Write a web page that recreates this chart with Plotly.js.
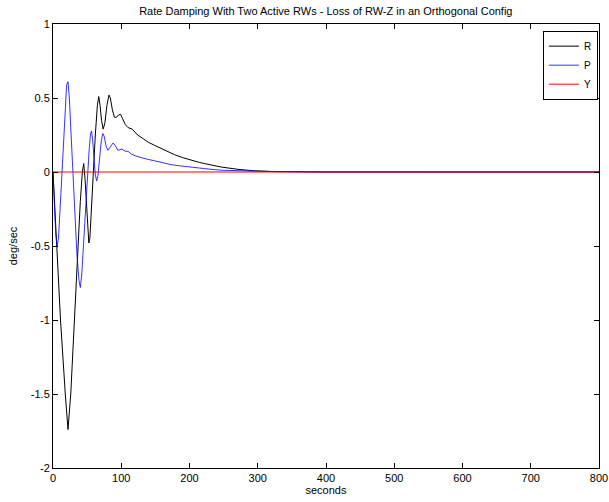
<!DOCTYPE html>
<html>
<head>
<meta charset="utf-8">
<script src="https://cdn.plot.ly/plotly-3.0.1.min.js"></script>
<style>html,body{margin:0;padding:0;background:#fff;}#chart{width:609px;height:502px;}</style>
</head>
<body>
<div id="chart"></div>
<script>
// Roll rate (R)
const tR = [0, 5, 11, 18, 22, 26, 31, 36, 40, 43, 45, 47, 50, 52.5, 54, 56, 59, 62, 65, 67, 69, 71, 73.5, 76, 79, 82, 84, 87, 90, 93, 96, 99, 102, 106, 110, 116, 120, 124, 129, 140, 149, 154, 166, 173, 178, 190, 198, 202, 215, 222, 227, 246, 271, 295, 320, 350, 378, 400, 800];
const R  = [0, -0.5, -1.0, -1.5, -1.74, -1.5, -1.0, -0.5, -0.2, 0.0, 0.057, -0.05, -0.3, -0.48, -0.45, -0.25, 0.0, 0.25, 0.45, 0.51, 0.45, 0.35, 0.29, 0.33, 0.45, 0.52, 0.5, 0.42, 0.37, 0.37, 0.385, 0.39, 0.36, 0.32, 0.30, 0.29, 0.27, 0.25, 0.235, 0.20, 0.18, 0.169, 0.14, 0.124, 0.117, 0.097, 0.086, 0.079, 0.064, 0.057, 0.052, 0.034, 0.018, 0.008, 0.004, 0.002, 0.001, 0, 0];
// Pitch rate (P)
const tP = [0, 2, 4, 6, 8, 10, 13, 16, 18, 20, 22, 24, 26, 29, 32, 35, 38, 40, 42, 45, 48, 51, 53, 55, 56.5, 58, 60, 62, 64, 66, 68, 71, 73, 75, 78, 80.5, 84, 88, 91, 95, 98, 101, 106, 110, 115, 120, 135, 149, 160, 173, 185, 198, 210, 222, 246, 271, 295, 330, 360, 800];
const P  = [0, -0.25, -0.42, -0.5, -0.45, -0.28, 0.0, 0.3, 0.48, 0.59, 0.61, 0.5, 0.3, 0.0, -0.3, -0.55, -0.73, -0.78, -0.7, -0.45, -0.2, 0.0, 0.15, 0.26, 0.277, 0.22, 0.1, -0.02, -0.06, -0.02, 0.08, 0.22, 0.26, 0.24, 0.17, 0.147, 0.17, 0.196, 0.18, 0.147, 0.15, 0.155, 0.14, 0.14, 0.12, 0.11, 0.09, 0.074, 0.062, 0.05, 0.042, 0.034, 0.028, 0.023, 0.012, 0.008, 0.004, 0.002, 0.001, 0];
// Yaw rate (Y)
const tY = [0, 800];
const Y  = [0, 0];

const xTicks = [0, 100, 200, 300, 400, 500, 600, 700, 800];
const yTicks = [-2, -1.5, -1, -0.5, 0, 0.5, 1];
const yTickText = ['-2', '-1.5', '-1', '-0.5', '0', '0.5', '1'];

const font = 'Liberation Sans, Arial, sans-serif';

const traces = [
  {x: tR, y: R, name: 'R', mode: 'lines', line: {color: '#000000', width: 1}},
  {x: tP, y: P, name: 'P', mode: 'lines', line: {color: '#0000ff', width: 0.8}},
  {x: tY, y: Y, name: 'Y', mode: 'lines', line: {color: '#ff0000', width: 1}}
];

const axisCommon = {
  showline: true, mirror: 'ticks', linecolor: '#000', linewidth: 1,
  ticks: 'inside', ticklen: 5, tickcolor: '#000', tickwidth: 1,
  showgrid: false, zeroline: false,
  tickfont: {family: font, size: 11, color: '#000'}
};

const layout = {
  width: 609, height: 502,
  paper_bgcolor: '#fff', plot_bgcolor: '#fff',
  margin: {l: 53, r: 10, t: 24, b: 34},
  title: {text: 'Rate Damping With Two Active RWs - Loss of RW-Z in an Orthogonal Config',
          font: {family: font, size: 11, color: '#000'},
          x: 0.535, xanchor: 'center', y: 1 - 11/502, yref: 'container', yanchor: 'middle'},
  xaxis: Object.assign({}, axisCommon, {
    range: [0, 800], tickvals: xTicks,
    title: {text: 'seconds', font: {family: font, size: 11, color: '#000'}, standoff: 2}
  }),
  yaxis: Object.assign({}, axisCommon, {
    range: [-2, 1], tickvals: yTicks, ticktext: yTickText,
    title: {text: 'deg/sec', font: {family: font, size: 11, color: '#000'}, standoff: 10}
  }),
  showlegend: true,
  legend: {
    x: 0.998, xanchor: 'right', y: 0.985, yanchor: 'top',
    bordercolor: '#000', borderwidth: 1, bgcolor: '#fff',
    font: {family: font, size: 10, color: '#000'},
    tracegroupgap: 0, itemwidth: 30
  }
};

Plotly.newPlot('chart', traces, layout, {displayModeBar: false, staticPlot: true});
</script>
</body>
</html>
